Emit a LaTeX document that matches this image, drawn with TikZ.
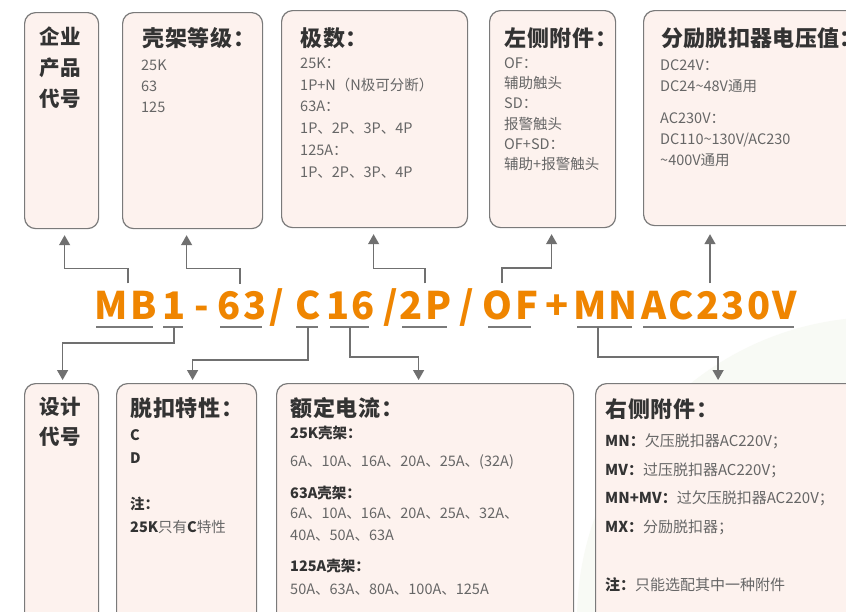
\documentclass[tikz,border=0pt]{standalone}
\usepackage{fontspec}
\usepackage{tikz}
\usetikzlibrary{arrows.meta}
\setmainfont{Noto Sans CJK SC}
\newfontfamily\titlefont{Noto Sans CJK SC}[LetterSpace=4]
\newfontfamily\tighttitlefont{Noto Sans CJK SC}[LetterSpace=1.5]
\newfontfamily\sidefont{Noto Sans CJK SC}[LetterSpace=2]
\newfontfamily\codefont{Noto Sans CJK SC}[LetterSpace=6]
\definecolor{boxfill}{RGB}{253,242,238}
\definecolor{boxline}{RGB}{122,122,122}
\definecolor{linkgray}{RGB}{112,112,112}
\definecolor{codeorange}{RGB}{239,133,0}
\definecolor{titlegray}{RGB}{51,51,51}
\definecolor{textgray}{RGB}{102,102,102}
\definecolor{leafgreen}{RGB}{248,250,245}
\newcommand{\dk}[1]{{\color{titlegray}\bfseries #1}}

\begin{document}
\begin{tikzpicture}[x=1pt, y=-1pt,
    box/.style={draw=boxline, line width=1.2pt, fill=boxfill,
                rounded corners=11pt, anchor=north west},
    side/.style={anchor=north west, inner sep=0pt, text=titlegray, align=left,
                 font=\sidefont\bfseries\fontsize{20.5}{31}\selectfont},
    title/.style={anchor=north west, inner sep=0pt, text=titlegray,
                  font=\titlefont\bfseries\fontsize{22}{24}\selectfont},
    body/.style={anchor=north west, inner sep=0pt, text=textgray, align=left,
                 font=\fontsize{14.5}{21}\selectfont},
    code/.style={anchor=base, inner sep=0pt, text=codeorange,
                 font=\codefont\bfseries\fontsize{38}{40}\selectfont},
    uline/.style={draw=boxline, line width=1.2pt},
    link/.style={draw=linkgray, line width=1.3pt,
                 -{Triangle[width=11pt,length=10pt]}}]
  \useasboundingbox (0,0) rectangle (846,611);
  \clip (0,0) rectangle (846,611);
  \fill[white] (0,0) rectangle (846,611);
  \fill[leafgreen] (880,620) circle (303);

  \node[box, minimum width=74, minimum height=216] (qiye) at (24,12) {};
  \node[box, minimum width=140, minimum height=216] (kejia) at (122,12) {};
  \node[box, minimum width=186, minimum height=217] (jishu) at (281,10) {};
  \node[box, minimum width=126, minimum height=217] (zuoce) at (489,10) {};
  \node[box, minimum width=230, minimum height=215] (fenli) at (643,10) {};
  \node[box, minimum width=74, minimum height=260] (sheji) at (24,383) {};
  \node[box, minimum width=140, minimum height=260] (tuokou) at (116,383) {};
  \node[box, minimum width=297, minimum height=260] (eding) at (276,383) {};
  \node[box, minimum width=280, minimum height=260] (youce) at (595,383) {};

  \node[side] at (39,27) {企业\\产品\\代号};
  \node[title] at (142,27) {壳架等级：};
  \node[body] at (141,59.5) {25K\\63\\125};
  \node[title] at (300,27) {极数：};
  \node[body, font=\fontsize{14.5}{21.8}\selectfont] at (300,57.5)
    {25K：\\1P+N（N极可分断）\\63A：\\1P、2P、3P、4P\\125A：\\1P、2P、3P、4P};
  \node[title] at (504,27) {左侧附件：};
  \node[body, font=\fontsize{14.5}{20.2}\selectfont] at (504,57.5)
    {OF：\\辅助触头\\SD：\\报警触头\\OF+SD：\\辅助+报警触头};
  \node[title, font=\tighttitlefont\bfseries\fontsize{22}{24}\selectfont] at (661,27) {分励脱扣器电压值：};
  \node[body] at (660,59.5)
    {DC24V：\\DC24\textasciitilde48V通用\\[11pt]AC230V：\\DC110\textasciitilde130V/AC230\\\textasciitilde400V通用};

  \node[side, font=\sidefont\bfseries\fontsize{20.5}{30}\selectfont] at (39,397) {设计\\代号};
  \node[title] at (130,397) {脱扣特性：};
  \node[body, font=\fontsize{14.5}{22.5}\selectfont] at (130,429.5)
    {\dk{C}\\\dk{D}\\[24pt]\dk{注：}\\\dk{25K}只有\dk{C}特性};
  \node[title] at (290,397) {额定电流：};
  \node[body, font=\fontsize{14.5}{21.5}\selectfont] at (290,426)
    {\dk{25K壳架：}\\[6.5pt]6A、10A、16A、20A、25A、(32A)\\[10.5pt]\dk{63A壳架：}\\[-1.5pt]
     6A、10A、16A、20A、25A、32A、\\40A、50A、63A\\[9.5pt]\dk{125A壳架：}\\[1.5pt]50A、63A、80A、100A、125A};
  \node[title] at (605,398) {右侧附件：};
  \node[body, font=\fontsize{15}{28.5}\selectfont] at (605,434)
    {\dk{MN：}欠压脱扣器AC220V；\\\dk{MV：}过压脱扣器AC220V；\\\dk{MN+MV：}过欠压脱扣器AC220V；\\
     \dk{MX：}分励脱扣器；\\[29.5pt]\dk{注：}只能选配其中一种附件};

  \node[code] (mb) at (125.5,319) {MB};
  \node[code] (one) at (174,319) {1};
  \node[code] (dash) at (202,319) {-};
  \node[code] (sixty) at (242,319) {63};
  \node[code] (slasha) at (277,319) {/};
  \node[code] (c) at (308,319) {C};
  \node[code] (sixteen) at (350.5,319) {16};
  \node[code] (slashb) at (391,319) {/};
  \node[code] (twop) at (425.5,319) {2P};
  \node[code] (slashc) at (467,319) {/};
  \node[code] (of) at (510.5,319) {OF};
  \node[code] (plus) at (557,319) {+};
  \node[code] (mn) at (605.5,319) {MN};
  \node[code] (ac) at (719.5,319) {AC230V};

  \foreach \n/\w in {mb/57, one/20, sixty/42, c/22, sixteen/39, twop/45, of/43, mn/55, ac/151} {
      \draw[uline] ([xshift=-\w/2-1, yshift=-8pt]\n.base) -- ([xshift=\w/2-1, yshift=-8pt]\n.base);
    }

  \foreach \s/\sx/\b/\bx in {mb/2.5/qiye/3, sixty/-2/kejia/-6, twop/-0.5/jishu/-1, of/-8.5/zuoce/-1} {
      \draw[link, shorten >=6pt] ([xshift=\sx pt, yshift=7pt]\s.north) -- ++(0,-15) -| ([xshift=\bx pt]\b.south);
    }
  \draw[link, shorten >=8pt] ([xshift=-9.5pt, yshift=7pt]ac.north) -- ([xshift=-9.5pt]ac.north |- fenli.south);

  \foreach \s/\sx/\h/\b/\bx in {one/0/16/sheji/1, c/0/33/tuokou/6, sixteen/-0.5/30/eding/-6.5, mn/-7.5/30/youce/-17.5} {
      \draw[link, shorten >=3pt] ([xshift=\sx pt, yshift=-8pt]\s.base) -- ++(0,\h) -| ([xshift=\bx pt]\b.north);
    }
\end{tikzpicture}
\end{document}
